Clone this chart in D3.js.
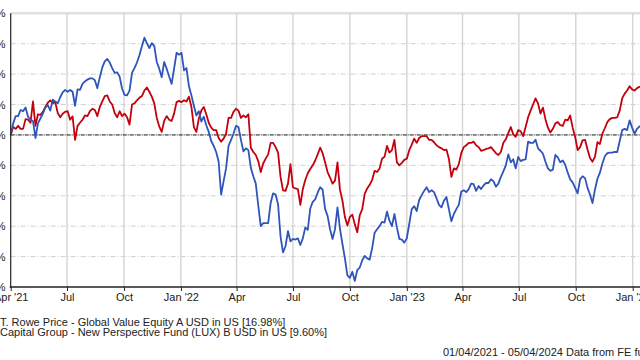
<!DOCTYPE html>
<html>
<head>
<meta charset="utf-8">
<script src="https://cdn.jsdelivr.net/npm/d3@7/dist/d3.min.js"></script>
<style>
  html, body { margin: 0; padding: 0; background: #fff; overflow: hidden; }
  svg { display: block; font-family: "Liberation Sans", Arial, sans-serif; }
</style>
</head>
<body>
<svg id="chart" width="640" height="360"></svg>
<script>
// ---- data (% growth since 01/04/2021, sampled every 4 days) ----
const startDate = "2021-04-01";
const endDate = "2024-04-05";
const stepDays = 4;

const seriesNames = [
  "T. Rowe Price - Global Value Equity A USD in US [16.98%]",
  "Capital Group - New Perspective Fund (LUX) B USD in US [9.60%]"
];

const tRoweValues = [
  0, 1.3, 1.0, 1.5, 1.0, 1.0, 2.6, 2.5, 2.0, 5.5,
  1.5, 3.4, 3.3, 3.8, 4.6, 5.3, 5.7, 5.2, 5.4, 3.6,
  2.9, 3.5, 3.8, 3.9, 2.5, 3.05, -0.8, 1.5, 2.0, 2.5,
  3.2, 3.1, 3.9, 4.3, 4.1, 3.1, 4.6, 5.5, 6.4, 6.5,
  5.5, 5.0, 3.6, 2.9, 3.9, 3.1, 3.5, 2.9, 1.7, 5.0,
  5.2, 5.7, 6.1, 6.4, 7.3, 7.8, 7.1, 6.3, 5.2, 2.8,
  1.4, 0.5, 2.3, 3.1, 2.5, 2.3, 3.5, 5.4, 5.6, 5.4,
  5.7, 5.5, 6.3, 4.6, 1.3, 0.5, 2.7, 4.0, 4.6, 3.4,
  2.0, 1.2, 0.8, 0.8, -0.5, -1.1, -0.6, 0.2, 2.8, 2.8,
  3.8, 4.3, 4.0, 2.8, 3.2, 2.9, 3.4, -2.1, -2.8, -3.3,
  -4.3, -6.1, -4.7, -3.9, -3.2, -1.3, -1.3, -2.0, -2.9, -6.9,
  -9.1, -9.2, -8.0, -4.8, -8.6, -8.8, -8.9, -11.5, -8.9, -7.4,
  -6.3, -5.6, -5.0, -4.2, -3.2, -2.1, -3.0, -4.5, -6.1, -7.0,
  -8.0, -7.5, -4.5, -9.0, -10.8, -13.5, -14.9, -13.5, -13.1, -14.7,
  -16.0, -13.2, -12.2, -9.7, -8.8, -8.2, -7.4, -5.9, -6.1, -5.5,
  -3.9, -3.6, -1.8, -2.9, -2.5, -0.8, -4.5, -5.0, -4.6, -4.1,
  -3.9, -2.5, -1.6, -0.6, -1.3, -0.5, -0.2, -0.2, -0.2, -0.8,
  -0.8, -1.2, -1.7, -2.0, -2.2, -2.5, -2.4, -3.9, -6.9, -5.5,
  -5.7, -4.8, -3.0, -2.0, -1.7, -1.3, -1.3, -1.1, -1.7, -2.0,
  -2.6, -2.5, -2.3, -2.2, -2.0, -2.5, -3.0, -3.3, -2.8, -1.3,
  -0.7, 0.3, 1.3, 0.1, -0.3, 0.8, 0.6, -0.2, 1.3, 2.9,
  4.0, 5.0, 6.0, 5.2, 3.5, 4.5, 2.6, 1.2, 0.4, 1.0,
  1.9, 2.1, 1.6, 1.5, 2.5, 2.4, 3.2, 1.2, -0.3, -2.5,
  -2.0, -0.9, -0.8, -2.4, -3.8, -4.4, -3.6, -1.2, -1.5, 0.2,
  1.1, 2.1, 2.6, 2.8, 2.8, 2.9, 4.0, 6.0, 6.8, 7.3,
  8.0, 7.5, 7.3, 7.7, 7.9, 8.0
];

const capGroupValues = [
  0, 1.9, 3.1, 3.1, 4.1, 3.9, 4.5, 3.0, 2.5, 2.3,
  -0.5, 1.9, 2.7, 3.5, 4.5, 4.9, 4.0, 5.8, 5.5, 5.2,
  6.2, 7.0, 7.4, 7.1, 7.4, 7.1, 4.8, 7.5, 7.4, 8.4,
  8.8, 9.1, 9.3, 9.3, 9.0, 7.7, 9.5, 11.1, 12.1, 12.5,
  11.9, 11.0, 10.2, 10.3, 9.6, 7.6, 6.6, 6.5, 7.3, 10.2,
  11.0, 11.9, 13.1, 14.6, 16.0, 15.1, 14.3, 15.1, 14.6, 12.0,
  10.9, 9.5, 12.0, 10.9, 9.6, 8.4, 10.9, 13.5, 13.2, 13.5,
  10.6, 11.0, 8.0, 6.5, 4.8, 3.2, 3.9, 2.2, 3.0, 1.6,
  0.5, -1.0, -1.8, -2.8, -4.4, -9.8, -7.6, -5.5, -1.8, -0.8,
  0.2, 1.5, 1.3, -0.8, -2.7, -2.2, -2.5, -5.4, -6.8, -8.0,
  -11.6, -15.0, -14.5, -14.5, -14.5, -11.2, -9.6, -9.8, -11.4, -16.7,
  -19.3, -18.3, -15.8, -17.5, -17.1, -17.2, -17.0, -18.1, -17.0, -15.2,
  -15.6, -12.1, -11.0, -10.6, -9.5, -8.6, -9.0, -12.2, -13.3, -15.5,
  -17.1, -15.5, -11.9, -15.4, -17.9, -20.3, -23.1, -23.5, -22.5, -24.0,
  -22.2, -21.8, -20.6, -19.9, -20.3, -20.5, -18.6, -16.1, -15.5, -15.0,
  -14.3, -14.4, -12.6, -14.1, -15.0, -13.0, -15.2, -17.1, -17.2, -17.7,
  -17.0, -14.6, -12.2, -11.7, -12.5, -10.7, -9.9, -9.2, -8.6, -9.4,
  -9.1, -9.4, -10.4, -11.5, -11.9, -10.8, -10.2, -12.2, -14.2, -13.0,
  -12.2, -11.5, -9.3, -9.1, -9.4, -8.9, -8.0, -8.1, -9.2, -8.4,
  -8.9, -8.3, -7.9, -7.9, -7.3, -7.6, -8.5, -8.0, -6.9, -6.0,
  -5.0, -3.2, -4.5, -4.0, -5.5, -3.6, -4.3, -4.1, -4.0, -1.1,
  -1.3, -1.3, -0.8, -2.2, -2.6, -3.1, -4.4, -5.5, -5.9, -5.7,
  -3.3, -3.7, -4.5, -4.2, -4.9, -6.2, -7.3, -7.8, -8.7, -9.6,
  -7.3, -6.8, -7.1, -8.7, -9.8, -11.2, -9.0, -7.2, -6.2, -4.7,
  -3.5, -3.0, -2.9, -2.9, -2.8, -2.8, -1.0, 0.8, 1.0, 0.8,
  2.4, 1.2, 0.2, 1.0, 1.4, 1.5
];

const yTickValues = [20, 15, 10, 5, 0, -5, -10, -15, -20, -25];
const xTickDates = ["2021-04-01","2021-07-01","2021-10-01","2022-01-01","2022-04-01","2022-07-01",
                    "2022-10-01","2023-01-01","2023-04-01","2023-07-01","2023-10-01","2024-01-01"];
const xTickLabels = ["Apr '21","Jul","Oct","Jan '22","Apr","Jul","Oct","Jan '23","Apr","Jul","Oct","Jan '24"];
const footerText = "01/04/2021 - 05/04/2024 Data from FE fundinfo2024";

const colors = ["#c4000c", "#2f55b9"];

// ---- layout ----
const svg = d3.select("#chart");
const plot = { left: 10.7, top: 13.3, right: 691.5, bottom: 287 };

const parse = d3.utcParse("%Y-%m-%d");
const x = d3.scaleUtc().domain([parse(startDate), parse(endDate)]).range([plot.left, plot.right]);
const y = d3.scaleLinear().domain([-25, 20]).range([plot.bottom, plot.top]);

const t0 = parse(startDate);
const toPoints = vals => vals.map((v, i) => ({ date: d3.utcDay.offset(t0, i * stepDays), value: v }));

// top border
svg.append("line").attr("x1", plot.left).attr("x2", 640).attr("y1", plot.top).attr("y2", plot.top)
  .attr("stroke", "#e0e0e0").attr("stroke-width", 2.5);

// vertical grid
const xTicks = xTickDates.map(parse);
svg.append("g").selectAll("line").data(xTicks.slice(1)).join("line")
  .attr("x1", d => x(d)).attr("x2", d => x(d))
  .attr("y1", plot.top).attr("y2", plot.bottom)
  .attr("stroke", "#d4d4d4").attr("stroke-width", 1.4);

// horizontal grid
svg.append("g").selectAll("line").data(yTickValues.filter(v => v !== 0 && v !== 20 && v !== -25)).join("line")
  .attr("x1", plot.left).attr("x2", 640)
  .attr("y1", d => y(d)).attr("y2", d => y(d))
  .attr("stroke", "#d0d0d0").attr("stroke-width", 1).attr("stroke-dasharray", "5,2,1,2");

// zero line
svg.append("line").attr("x1", plot.left).attr("x2", 640).attr("y1", y(0)).attr("y2", y(0))
  .attr("stroke", "#111").attr("stroke-width", 1).attr("stroke-dasharray", "4,1,1,1");

// series
const line = d3.line().x(d => x(d.date)).y(d => y(d.value));
[tRoweValues, capGroupValues].forEach((vals, k) => {
  svg.append("path").datum(toPoints(vals))
    .attr("fill", "none").attr("stroke", colors[k]).attr("stroke-width", 1.8)
    .attr("stroke-linejoin", "round").attr("d", line);
});

// axes
svg.append("line").attr("x1", plot.left).attr("x2", plot.left).attr("y1", plot.top).attr("y2", plot.bottom + 1)
  .attr("stroke", "#222").attr("stroke-width", 1.2);
svg.append("line").attr("x1", plot.left - 1).attr("x2", 640).attr("y1", plot.bottom).attr("y2", plot.bottom)
  .attr("stroke", "#222").attr("stroke-width", 1.4);

const xAxis = d3.axisBottom(x).tickValues(xTicks).tickSize(4).tickFormat((d, i) => xTickLabels[i]);
const gx = svg.append("g").attr("transform", `translate(0,${plot.bottom})`).call(xAxis);
gx.select(".domain").remove();
gx.selectAll(".tick line").attr("stroke", "#222");
gx.selectAll(".tick text").attr("font-size", 11).attr("fill", "#222").attr("dy", "0.6em")
  .attr("font-family", "'Liberation Sans', Arial, sans-serif");

const yAxis = d3.axisLeft(y).tickValues(yTickValues).tickSize(0).tickPadding(0).tickFormat(d => d + "%");
const gy = svg.append("g").attr("transform", `translate(5.5,0)`).call(yAxis);
gy.select(".domain").remove();
gy.selectAll(".tick text").attr("font-size", 11).attr("fill", "#222")
  .attr("font-family", "'Liberation Sans', Arial, sans-serif");

// legend
const legend = svg.append("g").attr("font-size", 11).attr("fill", "#222");
seriesNames.forEach((name, i) => {
  legend.append("line").attr("x1", -30).attr("x2", -8).attr("y1", 321.5 + i * 10.5).attr("y2", 321.5 + i * 10.5)
    .attr("stroke", colors[i]).attr("stroke-width", 2);
  legend.append("text").attr("x", 0).attr("y", 325.5 + i * 10.5).text(name);
});

// footer
svg.append("text").attr("x", 443).attr("y", 356).attr("font-size", 11).attr("fill", "#222").text(footerText);
</script>
</body>
</html>
